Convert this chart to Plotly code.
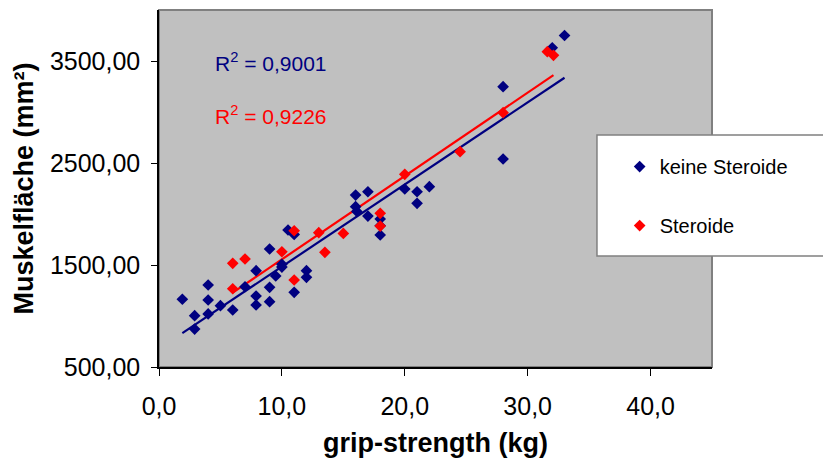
import numpy as np
import plotly.graph_objects as go

# ---- data ----
x_keine = [1.9, 2.9, 2.9, 4.0, 4.0, 4.0, 5.0, 6.0, 7.0, 7.9, 7.9, 7.9, 9.0, 9.0, 9.0,
           9.5, 10.0, 10.0, 10.5, 11.0, 11.0, 12.0, 12.0, 16.0, 16.0, 16.1, 17.0, 17.0,
           18.0, 18.0, 18.0, 20.0, 21.0, 21.0, 22.0, 28.0, 28.0, 32.0, 33.0]
y_keine = [1164, 1003, 872, 1304, 1157, 1020, 1101, 1059, 1287, 1444, 1196, 1108, 1657, 1281, 1140,
           1392, 1507, 1480, 1843, 1800, 1232, 1444, 1379, 2186, 2072, 2025, 2218, 1980,
           1951, 1885, 1794, 2245, 2218, 2105, 2268, 3248, 2539, 3630, 3750]

x_ster = [6.0, 7.0, 6.0, 10.0, 11.0, 11.0, 13.0, 13.5, 15.0, 18.0, 18.0, 20.0, 24.5, 28.0, 31.6, 32.1]
y_ster = [1516, 1559, 1267, 1630, 1836, 1353, 1817, 1624, 1810, 2007, 1882, 2389, 2611, 2993, 3591, 3556]

series_names = ["keine Steroide", "Steroide"]
r2_texts = ["R<sup>2</sup> = 0,9001", "R<sup>2</sup> = 0,9226"]

x_tickvals = [0, 10, 20, 30, 40]
x_ticktext = ["0,0", "10,0", "20,0", "30,0", "40,0"]
y_tickvals = [500, 1500, 2500, 3500]
y_ticktext = ["500,00", "1500,00", "2500,00", "3500,00"]

x_title = "grip-strength (kg)"
y_title = "Muskelfläche (mm²)"

NAVY = "#000080"
RED = "#FF0000"
FONT = "Arial, Liberation Sans, sans-serif"


def fit_line(xs, ys):
    m, b = np.polyfit(xs, ys, 1)
    xx = [min(xs), max(xs)]
    return xx, [m * v + b for v in xx]


fig = go.Figure()

for xs, ys, name, col in [(x_keine, y_keine, series_names[0], NAVY),
                          (x_ster, y_ster, series_names[1], RED)]:
    lx, ly = fit_line(xs, ys)
    fig.add_trace(go.Scatter(x=lx, y=ly, mode="lines", line=dict(color=col, width=2.2),
                             showlegend=False, hoverinfo="skip"))

for xs, ys, name, col in [(x_keine, y_keine, series_names[0], NAVY),
                          (x_ster, y_ster, series_names[1], RED)]:
    fig.add_trace(go.Scatter(x=xs, y=ys, mode="markers", name=name, legendgroup=name,
                             marker=dict(symbol="diamond", size=9, color=col,
                                         line=dict(width=0))))

# R² annotations
fig.add_annotation(x=4.4, y=3490, xref="x", yref="y", text=r2_texts[0], showarrow=False,
                   xanchor="left", yanchor="middle", font=dict(family=FONT, size=21, color=NAVY))
fig.add_annotation(x=4.4, y=2975, xref="x", yref="y", text=r2_texts[1], showarrow=False,
                   xanchor="left", yanchor="middle", font=dict(family=FONT, size=21, color=RED))

# plot area border (gray) and legend box
fig.add_shape(type="rect", xref="paper", yref="paper", x0=0, x1=1, y0=0, y1=1,
              line=dict(color="#808080", width=2), layer="below")
fig.add_shape(type="rect", xref="paper", yref="paper", x0=0.792, x1=1.4, y0=0.311, y1=0.650,
              line=dict(color="#808080", width=1.5), fillcolor="white", layer="above")

fig.update_layout(
    width=823, height=465,
    margin=dict(l=159, r=111, t=10, b=98),
    paper_bgcolor="white",
    plot_bgcolor="#C0C0C0",
    font=dict(family=FONT, color="black"),
    showlegend=True,
    legend=dict(x=0.833, y=0.616, xanchor="left", yanchor="top",
                bgcolor="rgba(0,0,0,0)", borderwidth=0,
                font=dict(family=FONT, size=20, color="black"),
                traceorder="grouped", tracegroupgap=30, itemwidth=30),
    xaxis=dict(range=[0, 45], tickvals=x_tickvals, ticktext=x_ticktext,
               showgrid=False, zeroline=False, showline=True, linecolor="black", linewidth=1.5,
               ticks="outside", ticklen=7, tickcolor="black", tickwidth=1,
               ticklabelstandoff=9,
               tickfont=dict(family=FONT, size=25, color="black"),
               title=dict(text="<b>" + x_title + "</b>", font=dict(family=FONT, size=27),
                          standoff=14)),
    yaxis=dict(range=[500, 4000], tickvals=y_tickvals, ticktext=y_ticktext,
               showgrid=False, zeroline=False, showline=True, linecolor="black", linewidth=1.5,
               ticks="outside", ticklen=6, tickcolor="black", tickwidth=1,
               ticklabelstandoff=6,
               tickfont=dict(family=FONT, size=25, color="black"),
               title=dict(text="<b>" + y_title + "</b>", font=dict(family=FONT, size=27),
                          standoff=8)),
)

fig.write_html("out.html")
